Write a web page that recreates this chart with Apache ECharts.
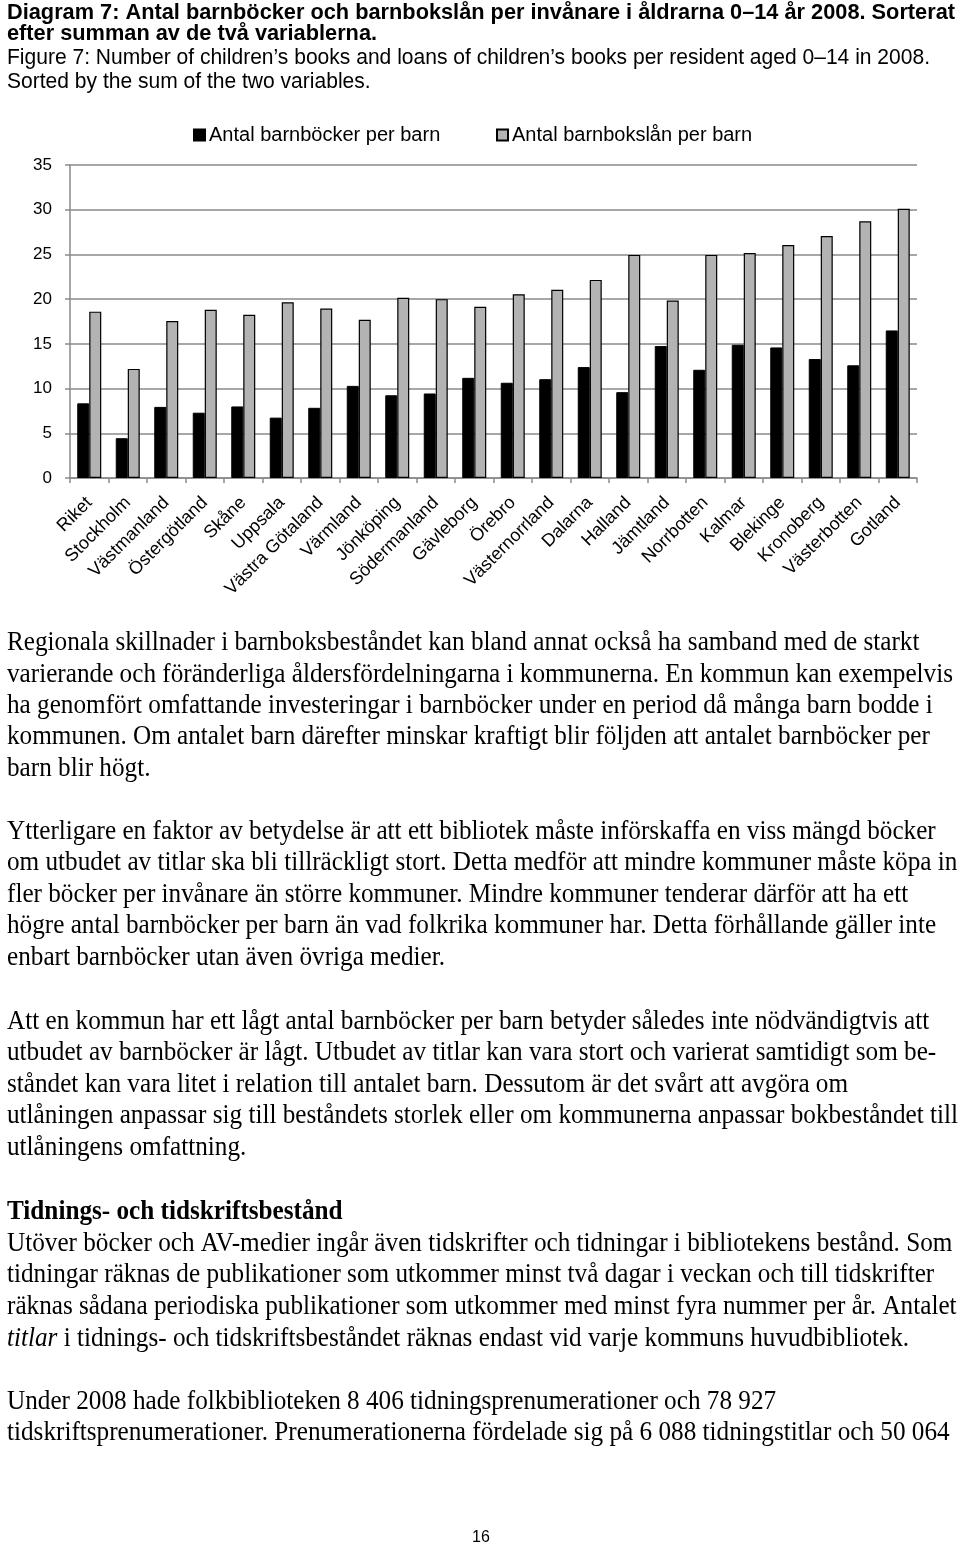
<!DOCTYPE html>
<html>
<head>
<meta charset="utf-8">
<script src="https://cdn.jsdelivr.net/npm/echarts@6/dist/echarts.min.js"></script>
<style>
html,body{margin:0;padding:0;background:#fff;}
#chart{width:960px;height:1547px;}
</style>
</head>
<body>
<div id="chart"></div>
<script>
// ---- Data ----
const categories = ['Riket','Stockholm','Västmanland','Östergötland','Skåne','Uppsala','Västra Götaland','Värmland','Jönköping','Södermanland','Gävleborg','Örebro','Västernorrland','Dalarna','Halland','Jämtland','Norrbotten','Kalmar','Blekinge','Kronoberg','Västerbotten','Gotland'];
const booksPerChild = [8.35, 4.45, 7.95, 7.3, 8.0, 6.75, 7.85, 10.3, 9.25, 9.45, 11.2, 10.65, 11.05, 12.4, 9.6, 14.75, 12.1, 14.9, 14.6, 13.3, 12.6, 16.5];
const loansPerChild = [18.6, 12.2, 17.55, 18.8, 18.25, 19.65, 18.95, 17.7, 20.15, 20.0, 19.15, 20.55, 21.05, 22.15, 24.95, 19.85, 24.95, 25.15, 26.05, 27.05, 28.7, 30.1];
const seriesNames = ['Antal barnböcker per barn', 'Antal barnbokslån per barn'];
const yMin = 0, yMax = 35, yInterval = 5;

// ---- Text ----
const titleBold = ['Diagram 7: Antal barnböcker och barnbokslån per invånare i åldrarna 0–14 år 2008. Sorterat',
                   'efter summan av de två variablerna.'];
const titleNormal = ['Figure 7: Number of children’s books and loans of children’s books per resident aged 0–14 in 2008.',
                     'Sorted by the sum of the two variables.'];
const bodyLines = [
 [643,'Regionala skillnader i barnboksbeståndet kan bland annat också ha samband med de starkt'],
 [675,'varierande och föränderliga åldersfördelningarna i kommunerna. En kommun kan exempelvis'],
 [706,'ha genomfört omfattande investeringar i barnböcker under en period då många barn bodde i'],
 [737,'kommunen. Om antalet barn därefter minskar kraftigt blir följden att antalet barnböcker per'],
 [769,'barn blir högt.'],
 [832,'Ytterligare en faktor av betydelse är att ett bibliotek måste införskaffa en viss mängd böcker'],
 [863,'om utbudet av titlar ska bli tillräckligt stort. Detta medför att mindre kommuner måste köpa in'],
 [895,'fler böcker per invånare än större kommuner. Mindre kommuner tenderar därför att ha ett'],
 [926,'högre antal barnböcker per barn än vad folkrika kommuner har. Detta förhållande gäller inte'],
 [958,'enbart barnböcker utan även övriga medier.'],
 [1022,'Att en kommun har ett lågt antal barnböcker per barn betyder således inte nödvändigtvis att'],
 [1053,'utbudet av barnböcker är lågt. Utbudet av titlar kan vara stort och varierat samtidigt som be-'],
 [1085,'ståndet kan vara litet i relation till antalet barn. Dessutom är det svårt att avgöra om'],
 [1116,'utlåningen anpassar sig till beståndets storlek eller om kommunerna anpassar bokbeståndet till'],
 [1148,'utlåningens omfattning.'],
 [1244,'Utöver böcker och AV-medier ingår även tidskrifter och tidningar i bibliotekens bestånd. Som'],
 [1275,'tidningar räknas de publikationer som utkommer minst två dagar i veckan och till tidskrifter'],
 [1307,'räknas sådana periodiska publikationer som utkommer med minst fyra nummer per år. Antalet'],
 [1339,'{i|titlar} i tidnings- och tidskriftsbeståndet räknas endast vid varje kommuns huvudbibliotek.'],
 [1402,'Under 2008 hade folkbiblioteken 8 406 tidningsprenumerationer och 78 927'],
 [1433,'tidskriftsprenumerationer. Prenumerationerna fördelade sig på 6 088 tidningstitlar och 50 064']
];
const heading = [1212, 'Tidnings- och tidskriftsbestånd'];
const pageNumber = '16';

// ---- measuring for horizontal fit ----
const mctx = document.createElement('canvas').getContext('2d');
function measure(t, f){ mctx.font = f; return mctx.measureText(t).width; }

const SANS = "'Liberation Sans', Arial, sans-serif";
const SERIF = "'Liberation Serif', 'Times New Roman', Times, serif";
const fTitleB = 'bold 22px ' + SANS;
const fTitleN = '22px ' + SANS;
const fBody = '27px ' + SERIF;
const fBodyB = 'bold 27px ' + SERIF;

const sTitleB = 948 / measure(titleBold[0], fTitleB);
const sTitleN = 923 / measure(titleNormal[0], fTitleN);
const sBody = 946 / measure(bodyLines[1][1], fBody);

const graphics = [];
function addText(x, y, text, font, sx, extra){
  graphics.push({
    type: 'text', x: x, y: y, scaleX: sx, silent: true,
    style: Object.assign({ text: text, font: font, fill: '#000', verticalAlign: 'middle', align: 'left' }, extra || {})
  });
}
addText(7, 13, titleBold[0], fTitleB, sTitleB);
addText(7, 34, titleBold[1], fTitleB, sTitleB);
addText(7, 58, titleNormal[0], fTitleN, sTitleN);
addText(7, 82, titleNormal[1], fTitleN, sTitleN);
bodyLines.forEach(function(l){
  addText(7, l[0], l[1], fBody, sBody, { rich: { i: { font: 'italic 27px ' + SERIF, fill: '#000' } } });
});
addText(7, heading[0], heading[1], fBodyB, sBody);
graphics.push({ type: 'text', x: 481, y: 1538, silent: true,
  style: { text: pageNumber, font: '16px ' + SANS, fill: '#000', align: 'center', verticalAlign: 'middle' } });

const chart = echarts.init(document.getElementById('chart'), null, { renderer: 'canvas' });
const legendCommon = { top: 125, itemWidth: 11, itemHeight: 11, itemGap: 10,
  textStyle: { fontFamily: SANS, fontSize: 20, color: '#000', padding: [0,0,0,-1] }, icon: 'rect', padding: 0 };
chart.setOption({
  animation: false,
  backgroundColor: '#fff',
  graphic: graphics,
  legend: [
    Object.assign({ data: [seriesNames[0]], left: 193 }, legendCommon),
    Object.assign({ data: [seriesNames[1]], left: 496 }, legendCommon)
  ],
  grid: { left: 70, right: 43, top: 165, bottom: 1547 - 478, containLabel: false },
  xAxis: {
    type: 'category', data: categories,
    axisLine: { lineStyle: { color: '#8a8a8a', width: 1.5 } },
    axisTick: { show: true, length: 5, lineStyle: { color: '#8a8a8a', width: 1.5 } },
    axisLabel: { rotate: 45, interval: 0, margin: 22, color: '#000', fontFamily: SANS, fontSize: 18 }
  },
  yAxis: {
    type: 'value', min: yMin, max: yMax, interval: yInterval,
    axisLine: { show: true, lineStyle: { color: '#8a8a8a', width: 1.5 } },
    axisTick: { show: true, length: 5, lineStyle: { color: '#8a8a8a', width: 1.5 } },
    splitLine: { lineStyle: { color: '#8a8a8a', width: 1.5 } },
    axisLabel: { margin: 18, color: '#000', fontFamily: SANS, fontSize: 17 }
  },
  series: [
    { name: seriesNames[0], type: 'bar', data: booksPerChild, barWidth: 12, barGap: '0%',
      itemStyle: { color: '#000', borderColor: '#000', borderWidth: 1 } },
    { name: seriesNames[1], type: 'bar', data: loansPerChild, barWidth: 12, barGap: '0%',
      itemStyle: { color: '#b3b3b3', borderColor: '#000', borderWidth: 1.2 } }
  ]
});
</script>
</body>
</html>
